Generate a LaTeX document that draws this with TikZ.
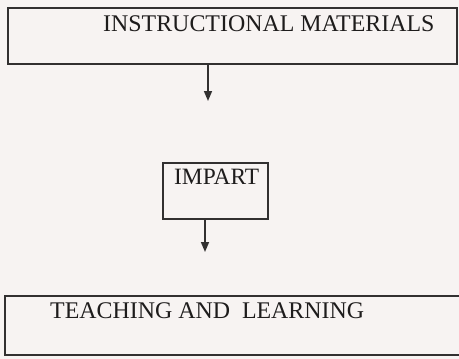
\documentclass[tikz,border=0pt]{standalone}
\usepackage{fontspec}
\setmainfont{Liberation Serif}
\usetikzlibrary{arrows.meta,calc,positioning}
\definecolor{paper}{RGB}{247,243,242}
\definecolor{inkline}{RGB}{50,48,48}
\definecolor{inktext}{RGB}{30,28,28}

\begin{document}
\begin{tikzpicture}[x=1pt,y=-1pt,
    box/.style={draw=inkline,line width=2pt,rectangle,inner sep=0pt,anchor=north west},
    lbl/.style={inktext,inner sep=0pt,anchor=base west,font=\fontsize{23.9}{27}\selectfont},
    flow/.style={inkline,line width=1.6pt,-{Triangle[width=8pt,length=10pt]}}]
  \useasboundingbox (0,0) rectangle (459,359);
  \clip (0,0) rectangle (459,359);
  \fill[paper] (0,0) rectangle (459,359);
  % boxes
  \node[box,minimum width=449pt,minimum height=56pt] (instr) at (7,7) {};
  \node[box,minimum width=105pt,minimum height=56pt] (impart) at (162,162) {};
  \node[box,minimum width=480pt,minimum height=59pt] (teach) at (4,295) {};
  % texts
  \node[lbl] (instrtxt) at (103,31) {INSTRUCTIONAL MATERIALS};
  \node[lbl,font=\fontsize{23.4}{27}\selectfont] (imparttxt) at (174,184) {IMPART};
  \node[lbl] (teachtxt) at (50,318) {TEACHING AND\ \ LEARNING};
  % connectors
  \coordinate (endA) at (208,101);
  \coordinate (endB) at (205,252);
  \draw[flow] (instr.south -| endA) -- (endA);
  \draw[flow] (impart.south -| endB) -- (endB);
\end{tikzpicture}
\end{document}
